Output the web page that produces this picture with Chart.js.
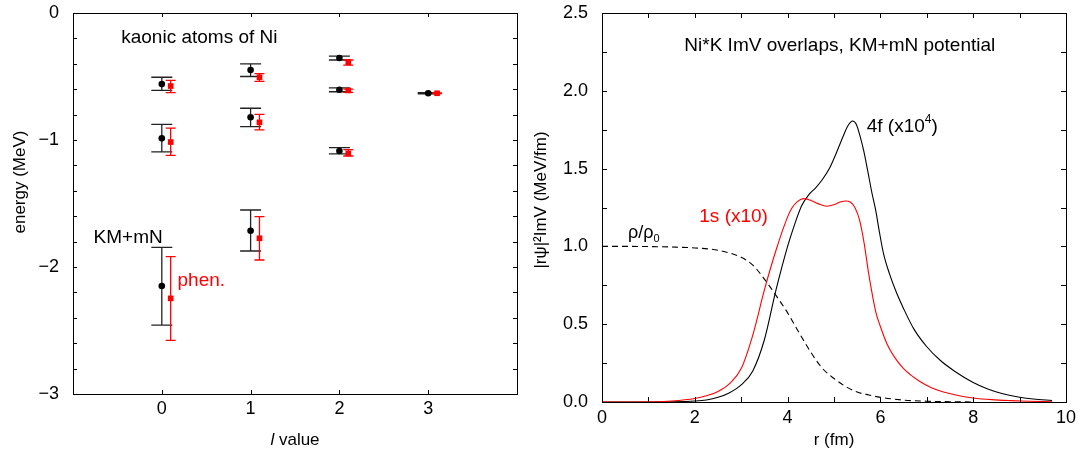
<!DOCTYPE html>
<html>
<head>
<meta charset="utf-8">
<script src="https://cdn.jsdelivr.net/npm/chart.js@4.4.1/dist/chart.umd.min.js"></script>
<style>
  html, body { margin: 0; padding: 0; background: #fff; }
  #wrap { position: relative; width: 1079px; height: 456px; overflow: hidden; }
  #levels { position: absolute; left: 0; top: 0; width: 521px; height: 456px; }
  #overlaps { position: absolute; left: 521px; top: 0; width: 558px; height: 456px; }
</style>
</head>
<body>
<div id="wrap">
  <canvas id="levels" width="521" height="456"></canvas>
  <canvas id="overlaps" width="558" height="456"></canvas>
</div>
<script>
// ---- left panel: kaonic atom levels of Ni ----
const lValue = [0, 0, 0, 1, 1, 1, 2, 2, 2, 3];
const phenShift = 0.1;   // phen. points are drawn a little to the right

const kmEnergy = [-0.56, -0.987, -2.15, -0.449, -0.821, -1.714, -0.354, -0.604, -1.087, -0.632];
const kmUpper  = [-0.506, -0.877, -1.845, -0.40, -0.75, -1.551, -0.339, -0.59, -1.06, -0.628];
const kmLower  = [-0.61, -1.094, -2.457, -0.50, -0.895, -1.874, -0.37, -0.62, -1.11, -0.636];

const phenEnergy = [-0.575, -1.016, -2.247, -0.506, -0.861, -1.774, -0.388, -0.61, -1.105, -0.632];
const phenUpper  = [-0.53, -0.906, -1.919, -0.478, -0.798, -1.604, -0.37, -0.60, -1.076, -0.629];
const phenLower  = [-0.627, -1.121, -2.577, -0.538, -0.921, -1.945, -0.41, -0.625, -1.126, -0.635];

const lTicks = [0, 1, 2, 3];
const energyTicks = [0, -1, -2, -3];

// ---- right panel: ImV overlaps ----
const rhoR = [0, 0.5, 1, 1.5, 2, 2.5, 3, 3.25, 3.5, 3.75, 4, 4.25, 4.5, 4.75, 5, 5.25, 5.5, 5.75, 6, 6.5, 7, 7.5, 8];
const rhoVal = [1.0, 1.0, 0.999, 0.996, 0.99, 0.975, 0.93, 0.88, 0.79, 0.685, 0.573, 0.444, 0.32, 0.216, 0.151, 0.10, 0.064, 0.045, 0.03, 0.012, 0.005, 0.002, 0];

const s1R = [0, 0.5, 1.0, 1.5, 2.0, 2.25, 2.5, 2.75, 3.0, 3.25, 3.5, 3.75, 4.0, 4.1, 4.2, 4.35, 4.5, 4.65, 4.85, 5.0, 5.15, 5.25, 5.35, 5.45, 5.55, 5.65, 5.75, 5.9, 6.0, 6.14, 6.3, 6.5, 6.86, 7.1, 7.36, 7.7, 8.0, 8.4, 8.8, 9.2, 9.7];
const s1Val = [0, 0, 0.001, 0.006, 0.022, 0.04, 0.068, 0.118, 0.215, 0.43, 0.72, 0.975, 1.19, 1.25, 1.285, 1.307, 1.295, 1.275, 1.258, 1.268, 1.287, 1.292, 1.285, 1.25, 1.17, 1.02, 0.82, 0.58, 0.485, 0.375, 0.29, 0.215, 0.13, 0.092, 0.064, 0.04, 0.026, 0.015, 0.009, 0.005, 0.002];

const f4R = [0, 1.0, 1.5, 2.0, 2.25, 2.5, 2.75, 3.0, 3.25, 3.5, 3.75, 4.0, 4.15, 4.3, 4.45, 4.6, 4.75, 4.9, 5.05, 5.2, 5.3, 5.4, 5.48, 5.56, 5.64, 5.73, 5.82, 5.9, 5.98, 6.07, 6.2, 6.35, 6.5, 6.72, 7.0, 7.3, 7.6, 8.0, 8.3, 8.6, 9.0, 9.3, 9.7];
const f4Val = [0, 0, 0.001, 0.006, 0.013, 0.03, 0.06, 0.11, 0.2, 0.4, 0.72, 1.0, 1.14, 1.26, 1.33, 1.375, 1.43, 1.5, 1.6, 1.71, 1.775, 1.806, 1.785, 1.71, 1.615, 1.48, 1.34, 1.23, 1.09, 0.95, 0.82, 0.70, 0.60, 0.47, 0.355, 0.265, 0.198, 0.125, 0.085, 0.056, 0.031, 0.019, 0.01];

const rTicks = [0, 2, 4, 6, 8, 10];
const overlapTicks = [0, 0.5, 1.0, 1.5, 2.0, 2.5];

const FONT = "'Liberation Sans', Arial, sans-serif";
Chart.defaults.font.family = FONT;
Chart.defaults.color = '#000';

const pick = (list, v) => list.find(t => Math.abs(t - v) < 1e-6);

// draw text made of parts: [text, '' | 'italic' | 'sup' | 'sub']
function drawRich(ctx, parts, x, y, size, color, align) {
  const fontFor = st => (st === 'italic' ? 'italic ' : '') +
    (st === 'sup' || st === 'sub' ? Math.round(size * 0.62) : size) + 'px ' + FONT;
  let w = 0;
  parts.forEach(([t, st]) => { ctx.font = fontFor(st); w += ctx.measureText(t).width; });
  let cx = align === 'center' ? x - w / 2 : x;
  ctx.fillStyle = color;
  ctx.textAlign = 'left';
  parts.forEach(([t, st]) => {
    ctx.font = fontFor(st);
    const dy = st === 'sup' ? -size * 0.45 : st === 'sub' ? size * 0.22 : 0;
    ctx.fillText(t, cx, y + dy);
    cx += ctx.measureText(t).width;
  });
}

// box round the plot area with inward ticks on all four sides
const frameTicks = {
  id: 'frameTicks',
  afterDraw(chart, args, opts) {
    const { ctx, chartArea: a, scales: { x, y } } = chart;
    const len = opts.len || 4;
    ctx.save();
    ctx.strokeStyle = '#000';
    ctx.lineWidth = 1;
    ctx.beginPath();
    x.ticks.forEach(t => {
      const px = Math.round(x.getPixelForValue(t.value)) + 0.5;
      ctx.moveTo(px, a.bottom); ctx.lineTo(px, a.bottom - len);
      ctx.moveTo(px, a.top); ctx.lineTo(px, a.top + len);
    });
    y.ticks.forEach(t => {
      const py = Math.round(y.getPixelForValue(t.value)) + 0.5;
      ctx.moveTo(a.left, py); ctx.lineTo(a.left + len, py);
      ctx.moveTo(a.right, py); ctx.lineTo(a.right - len, py);
    });
    ctx.stroke();
    ctx.strokeRect(Math.round(a.left) + 0.5, Math.round(a.top) + 0.5,
      Math.round(a.right - a.left), Math.round(a.bottom - a.top));
    ctx.restore();
  }
};

// vertical error bars with caps, under the markers
const errorBars = {
  id: 'errorBars',
  beforeDatasetsDraw(chart) {
    const { ctx, scales: { y } } = chart;
    chart.data.datasets.forEach((ds, i) => {
      if (!ds.errUpper) return;
      const meta = chart.getDatasetMeta(i);
      ctx.save();
      ctx.strokeStyle = ds.barColor;
      ctx.lineWidth = 1.3;
      ctx.beginPath();
      meta.data.forEach((pt, j) => {
        const top = y.getPixelForValue(ds.errUpper[j]);
        const bot = y.getPixelForValue(ds.errLower[j]);
        ctx.moveTo(pt.x, top); ctx.lineTo(pt.x, bot);
        ctx.moveTo(pt.x - ds.capHalf, top); ctx.lineTo(pt.x + ds.capHalf, top);
        ctx.moveTo(pt.x - ds.capHalf, bot); ctx.lineTo(pt.x + ds.capHalf, bot);
      });
      ctx.stroke();
      ctx.restore();
    });
  }
};

// free text inside the plot (data coords) and the axis titles (pixels)
const labels = {
  id: 'labels',
  afterDraw(chart, args, opts) {
    const { ctx, chartArea: a, scales: { x, y } } = chart;
    ctx.save();
    ctx.textBaseline = 'alphabetic';
    (opts.notes || []).forEach(n => {
      drawRich(ctx, n.parts, x.getPixelForValue(n.x), y.getPixelForValue(n.y), n.size, n.color, 'left');
    });
    ctx.textBaseline = 'middle';
    if (opts.xTitle) {
      drawRich(ctx, opts.xTitle, (a.left + a.right) / 2, opts.xTitleY, 17, '#000', 'center');
    }
    if (opts.yTitle) {
      ctx.translate(opts.yTitleX, opts.yTitleY);
      ctx.rotate(-Math.PI / 2);
      drawRich(ctx, opts.yTitle, 0, 0, 17, '#000', 'center');
    }
    ctx.restore();
  }
};

function fixScale(size, vertical) {
  return s => {
    if (vertical) { s.width = size; s.paddingTop = 0; s.paddingBottom = 0; }
    else { s.height = size; s.paddingLeft = 0; s.paddingRight = 0; }
  };
}

const tickFont = { size: 18 };

new Chart(document.getElementById('levels'), {
  type: 'scatter',
  data: {
    datasets: [
      {
        label: 'KM+mN',
        data: lValue.map((l, i) => ({ x: l, y: kmEnergy[i] })),
        errUpper: kmUpper, errLower: kmLower, capHalf: 10.5, barColor: '#222',
        pointStyle: 'circle', pointRadius: 3.3,
        backgroundColor: '#000', borderColor: '#000', borderWidth: 0
      },
      {
        label: 'phen.',
        data: lValue.map((l, i) => ({ x: l + phenShift, y: phenEnergy[i] })),
        errUpper: phenUpper, errLower: phenLower, capHalf: 5, barColor: '#ff0000',
        pointStyle: 'rect', pointRadius: 4,
        backgroundColor: '#ff0000', borderColor: '#ff0000', borderWidth: 0
      }
    ]
  },
  options: {
    responsive: false,
    animation: false,
    events: [],
    layout: { padding: { left: 0, right: 2, top: 13, bottom: 0 } },
    plugins: {
      legend: { display: false },
      tooltip: { enabled: false },
      frameTicks: { len: 4 },
      labels: {
        notes: [
          { parts: [['kaonic atoms of Ni', '']], x: -0.457, y: -0.234, size: 19, color: '#000' },
          { parts: [['KM+mN', '']], x: -0.768, y: -1.813, size: 19, color: '#000' },
          { parts: [['phen.', '']], x: 0.177, y: -2.147, size: 19, color: '#ff0000' }
        ],
        xTitle: [['l', 'italic'], [' value', '']], xTitleY: 440,
        yTitle: [['energy (MeV)', '']], yTitleX: 20, yTitleY: 182
      }
    },
    scales: {
      x: {
        type: 'linear', min: -1, max: 4,
        grid: { display: false, drawTicks: false }, border: { display: false },
        ticks: {
          stepSize: 1, autoSkip: false, maxRotation: 0, padding: 4, font: tickFont,
          callback: v => { const t = pick(lTicks, v); return t === undefined ? '' : String(t); }
        },
        afterFit: fixScale(62, false)
      },
      y: {
        type: 'linear', min: -3, max: 0,
        grid: { display: false, drawTicks: false }, border: { display: false },
        ticks: {
          stepSize: 0.2, autoSkip: false, padding: 14, font: tickFont,
          callback: v => {
            const t = pick(energyTicks, v);
            if (t === undefined) return '';
            return t < 0 ? '\u2212' + Math.abs(t) : '0';
          }
        },
        afterFit: fixScale(73, true)
      }
    }
  },
  plugins: [errorBars, frameTicks, labels]
});

const line = (xs, ys) => xs.map((r, i) => ({ x: r, y: ys[i] }));

new Chart(document.getElementById('overlaps'), {
  type: 'scatter',
  data: {
    datasets: [
      {
        label: 'rho/rho0', data: line(rhoR, rhoVal), showLine: true,
        borderColor: '#000', borderWidth: 1.1, borderDash: [6, 4], pointRadius: 0,
        cubicInterpolationMode: 'monotone'
      },
      {
        label: '1s (x10)', data: line(s1R, s1Val), showLine: true,
        borderColor: '#ff0000', borderWidth: 1.1, pointRadius: 0,
        cubicInterpolationMode: 'monotone'
      },
      {
        label: '4f (x10^4)', data: line(f4R, f4Val), showLine: true,
        borderColor: '#000', borderWidth: 1.1, pointRadius: 0,
        cubicInterpolationMode: 'monotone'
      }
    ]
  },
  options: {
    responsive: false,
    animation: false,
    events: [],
    layout: { padding: { left: 0, right: 13, top: 13, bottom: 0 } },
    plugins: {
      legend: { display: false },
      tooltip: { enabled: false },
      frameTicks: { len: 5 },
      labels: {
        notes: [
          { parts: [['Ni*K ImV overlaps, KM+mN potential', '']], x: 1.774, y: 2.258, size: 19, color: '#000' },
          { parts: [['4f (x10', ''], ['4', 'sup'], [')', '']], x: 5.705, y: 1.735, size: 19, color: '#000' },
          { parts: [['1s (x10)', '']], x: 2.097, y: 1.155, size: 19, color: '#ff0000' },
          { parts: [['\u03c1/\u03c1', ''], ['0', 'sub']], x: 0.56, y: 1.054, size: 18, color: '#000' }
        ],
        xTitle: [['r (fm)', '']], xTitleY: 440,
        yTitle: [['|r\u03c8|\u00b2ImV (MeV/fm)', '']], yTitleX: 20, yTitleY: 200
      }
    },
    scales: {
      x: {
        type: 'linear', min: 0, max: 10,
        grid: { display: false, drawTicks: false }, border: { display: false },
        ticks: {
          stepSize: 1, autoSkip: false, maxRotation: 0, padding: 5, font: tickFont,
          callback: v => { const t = pick(rTicks, v); return t === undefined ? '' : String(t); }
        },
        afterFit: fixScale(54, false)
      },
      y: {
        type: 'linear', min: 0, max: 2.5,
        grid: { display: false, drawTicks: false }, border: { display: false },
        ticks: {
          stepSize: 0.25, autoSkip: false, padding: 14, font: tickFont,
          callback: v => { const t = pick(overlapTicks, v); return t === undefined ? '' : t.toFixed(1); }
        },
        afterFit: fixScale(81, true)
      }
    }
  },
  plugins: [frameTicks, labels]
});
</script>
</body>
</html>
